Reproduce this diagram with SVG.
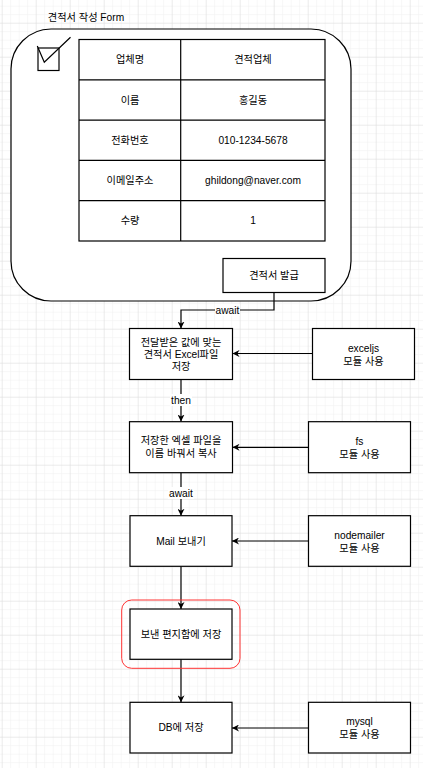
<svg xmlns="http://www.w3.org/2000/svg" width="423" height="768" viewBox="0 0 423 768">
<style>
text{font-family:"Liberation Sans","Noto Sans CJK KR",sans-serif;font-size:10.2px;fill:#000;text-anchor:middle;dominant-baseline:central}
.box{fill:#fff;stroke:#000;stroke-width:1.2}
.edge{fill:none;stroke:#000;stroke-width:1.2;marker-end:url(#arr)}
.lbl{fill:#fff}
</style>
<defs>
<pattern id="minor" width="8.5" height="8.5" patternUnits="userSpaceOnUse" x="1.7" y="5.7">
<path d="M0,0 H8.5 M0,0 V8.5" fill="none" stroke="#f0f0f0" stroke-width="1"/>
</pattern>
<pattern id="major" width="34" height="34" patternUnits="userSpaceOnUse" x="1.7" y="22.7">
<path d="M0,0 H34 M0,0 V34" fill="none" stroke="#e0e0e0" stroke-width="1"/>
</pattern>
<marker id="arr" viewBox="0 0 10 10" refX="10" refY="5" markerWidth="7" markerHeight="7" markerUnits="userSpaceOnUse" orient="auto">
<path d="M0,0 L10,5 L0,10 L3,5 z" fill="#000"/>
</marker>
</defs>
<rect width="423" height="768" fill="#fff"/>
<rect width="423" height="768" fill="url(#minor)"/>
<rect width="423" height="768" fill="url(#major)"/>

<g id="form">
<text x="86" y="17">견적서 작성 Form</text>
<rect x="11" y="29" width="340" height="272" rx="40" ry="40" fill="#fff" stroke="#000" stroke-width="1.2"/>
</g>
<g id="checkbox">
<rect x="38" y="48" width="21" height="22.5" fill="none" stroke="#000" stroke-width="1.2"/>
<path d="M37.3,46 L44.3,62.3 L70.5,37.3" fill="none" stroke="#000" stroke-width="1.2"/>
</g>
<g id="table">
<rect x="79" y="39.5" width="246" height="201.5" class="box"/>
<path d="M180.7,39.5 V241 M79,79.8 H325 M79,120.1 H325 M79,160.4 H325 M79,200.7 H325" fill="none" stroke="#000" stroke-width="1.2"/>
<text x="130" y="59.7">업체명</text>
<text x="253" y="59.7">견적업체</text>
<text x="130" y="100">이름</text>
<text x="253" y="100">홍길동</text>
<text x="130" y="140.3">전화번호</text>
<text x="253" y="140.3">010-1234-5678</text>
<text x="130" y="180.6">이메일주소</text>
<text x="253" y="180.6">ghildong@naver.com</text>
<text x="130" y="220.9">수량</text>
<text x="253" y="220.9">1</text>
</g>
<g id="issue">
<rect x="223" y="258.5" width="102" height="34" class="box"/>
<text x="274" y="275.5">견적서 발급</text>
</g>

<g id="connectors">
<path class="edge" d="M274,292.5 V310 H181 V328.5"/>
<rect class="lbl" x="215" y="304" width="25" height="12"/>
<text x="227.5" y="310">await</text>
<path class="edge" d="M312.5,353.5 H232.5"/>
<path class="edge" d="M181,379.5 V421.5"/>
<rect class="lbl" x="170" y="394" width="22" height="12"/>
<text x="181" y="400">then</text>
<path class="edge" d="M308.5,447.3 H232.5"/>
<path class="edge" d="M181,472.7 V515.7"/>
<rect class="lbl" x="168" y="487" width="26" height="12"/>
<text x="181" y="493">await</text>
<path class="edge" d="M308.5,541 H232"/>
<path class="edge" d="M181,566.3 V609"/>
<path class="edge" d="M181,659.3 V702.3"/>
<path class="edge" d="M308.5,728 H232"/>
</g>

<g id="n1">
<rect x="129.5" y="328.5" width="103" height="51" class="box"/>
<text x="181" y="342">전달받은 값에 맞는</text>
<text x="181" y="354">견적서 Excel파일</text>
<text x="181" y="366">저장</text>
</g>
<g id="exceljs">
<rect x="312.5" y="328.5" width="102" height="51" class="box"/>
<text x="363.5" y="348">exceljs</text>
<text x="363.5" y="361">모듈 사용</text>
</g>
<g id="n2">
<rect x="129.5" y="421.7" width="103" height="51" class="box"/>
<text x="181" y="440">저장한 엑셀 파일을</text>
<text x="181" y="453">이름 바꿔서 복사</text>
</g>
<g id="fs">
<rect x="308.5" y="421.7" width="102" height="51" class="box"/>
<text x="359.5" y="441.5">fs</text>
<text x="359.5" y="454">모듈 사용</text>
</g>
<g id="n3">
<rect x="130" y="515.7" width="102" height="50.6" class="box"/>
<text x="181" y="541">Mail 보내기</text>
</g>
<g id="nodemailer">
<rect x="308.5" y="515.7" width="102" height="50.6" class="box"/>
<text x="359.5" y="535">nodemailer</text>
<text x="359.5" y="548">모듈 사용</text>
</g>
<g id="highlight">
<rect x="121.7" y="600" width="118.3" height="68.3" rx="10" ry="10" fill="none" stroke="#ff3333" stroke-width="1"/>
</g>
<g id="n4">
<rect x="130" y="609" width="102" height="50.3" class="box"/>
<text x="181" y="634">보낸 편지함에 저장</text>
</g>
<g id="n5">
<rect x="130" y="702.3" width="102" height="50.7" class="box"/>
<text x="181" y="727.5">DB에 저장</text>
</g>
<g id="mysql">
<rect x="308.5" y="702.3" width="102" height="50.7" class="box"/>
<text x="359.5" y="721.5">mysql</text>
<text x="359.5" y="734.5">모듈 사용</text>
</g>
</svg>
